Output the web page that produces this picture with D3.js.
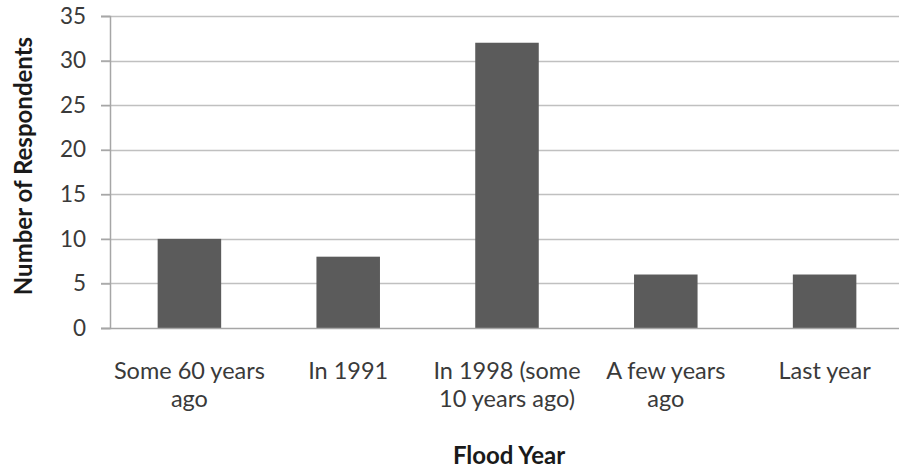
<!DOCTYPE html>
<html>
<head>
<meta charset="utf-8">
<script src="https://cdn.jsdelivr.net/npm/d3@7"></script>
<style>
  html, body { margin: 0; padding: 0; background: #fff; }
  svg { display: block; font-family: Lato, "Open Sans", sans-serif; }
</style>
</head>
<body>
<svg id="chart" width="899" height="468"></svg>
<script>
// Flood years recalled by respondents
const categories = ["Some 60 years\nago", "In 1991", "In 1998 (some\n10 years ago)", "A few years\nago", "Last year"];
const respondents = [10, 8, 32, 6, 6];
const yTicks = [0, 5, 10, 15, 20, 25, 30, 35];
const xTitle = "Flood Year";
const yTitle = "Number of Respondents";

const svg = d3.select("#chart");
const plotLeft = 110, plotRight = 904, plotTop = 16, plotBottom = 328;

const x = d3.scaleBand().domain(categories).range([plotLeft, plotRight]).paddingInner(0.6).paddingOuter(0.3);
const y = d3.scaleLinear().domain([0, 35]).range([plotBottom, plotTop]);

// horizontal gridlines
svg.append("g")
  .selectAll("line")
  .data(yTicks.filter(d => d > 0))
  .join("line")
  .attr("x1", plotLeft - 9).attr("x2", 899)
  .attr("y1", d => Math.round(y(d)) + 0.5).attr("y2", d => Math.round(y(d)) + 0.5)
  .attr("stroke", "#c0c0c0").attr("stroke-width", 1.5);

// bars
svg.append("g")
  .selectAll("rect")
  .data(respondents)
  .join("rect")
  .attr("x", (d, i) => x(categories[i]))
  .attr("width", x.bandwidth())
  .attr("y", d => y(d))
  .attr("height", d => y(0) - y(d))
  .attr("fill", "#5b5b5b");

// y axis
const yAxis = svg.append("g")
  .attr("transform", `translate(${plotLeft},0)`)
  .call(d3.axisLeft(y).tickValues(yTicks).tickSize(9).tickPadding(15));
yAxis.select(".domain").attr("stroke", "#a6a6a6").attr("stroke-width", 1.5);
yAxis.selectAll(".tick line").attr("stroke", "#a6a6a6").attr("stroke-width", 1.5);
yAxis.selectAll(".tick text").attr("font-size", 22.5).attr("fill", "#3a3a3a")
  .style("font-family", "Lato, 'Open Sans', sans-serif");

// baseline
svg.append("line")
  .attr("x1", plotLeft - 9).attr("x2", 899)
  .attr("y1", y(0) + 0.5).attr("y2", y(0) + 0.5)
  .attr("stroke", "#a6a6a6").attr("stroke-width", 1.5);

// category labels
const labels = svg.append("g")
  .selectAll("text")
  .data(categories)
  .join("text")
  .attr("text-anchor", "middle")
  .attr("font-size", 23.5)
  .attr("fill", "#3a3a3a")
  .attr("x", d => x(d) + x.bandwidth() / 2)
  .attr("y", 379);
labels.each(function(d) {
  const t = d3.select(this);
  d.split("\n").forEach((line, i) => {
    t.append("tspan")
      .attr("x", x(d) + x.bandwidth() / 2)
      .attr("dy", i === 0 ? 0 : 28)
      .text(line);
  });
});

// axis titles
svg.append("text")
  .attr("x", 509).attr("y", 464)
  .attr("text-anchor", "middle")
  .attr("font-size", 24).attr("font-weight", "bold").attr("fill", "#1a1a1a")
  .text(xTitle);

svg.append("text")
  .attr("transform", `translate(32,166) rotate(-90)`)
  .attr("text-anchor", "middle")
  .attr("font-size", 24).attr("font-weight", "bold").attr("fill", "#1a1a1a")
  .text(yTitle);
</script>
</body>
</html>
